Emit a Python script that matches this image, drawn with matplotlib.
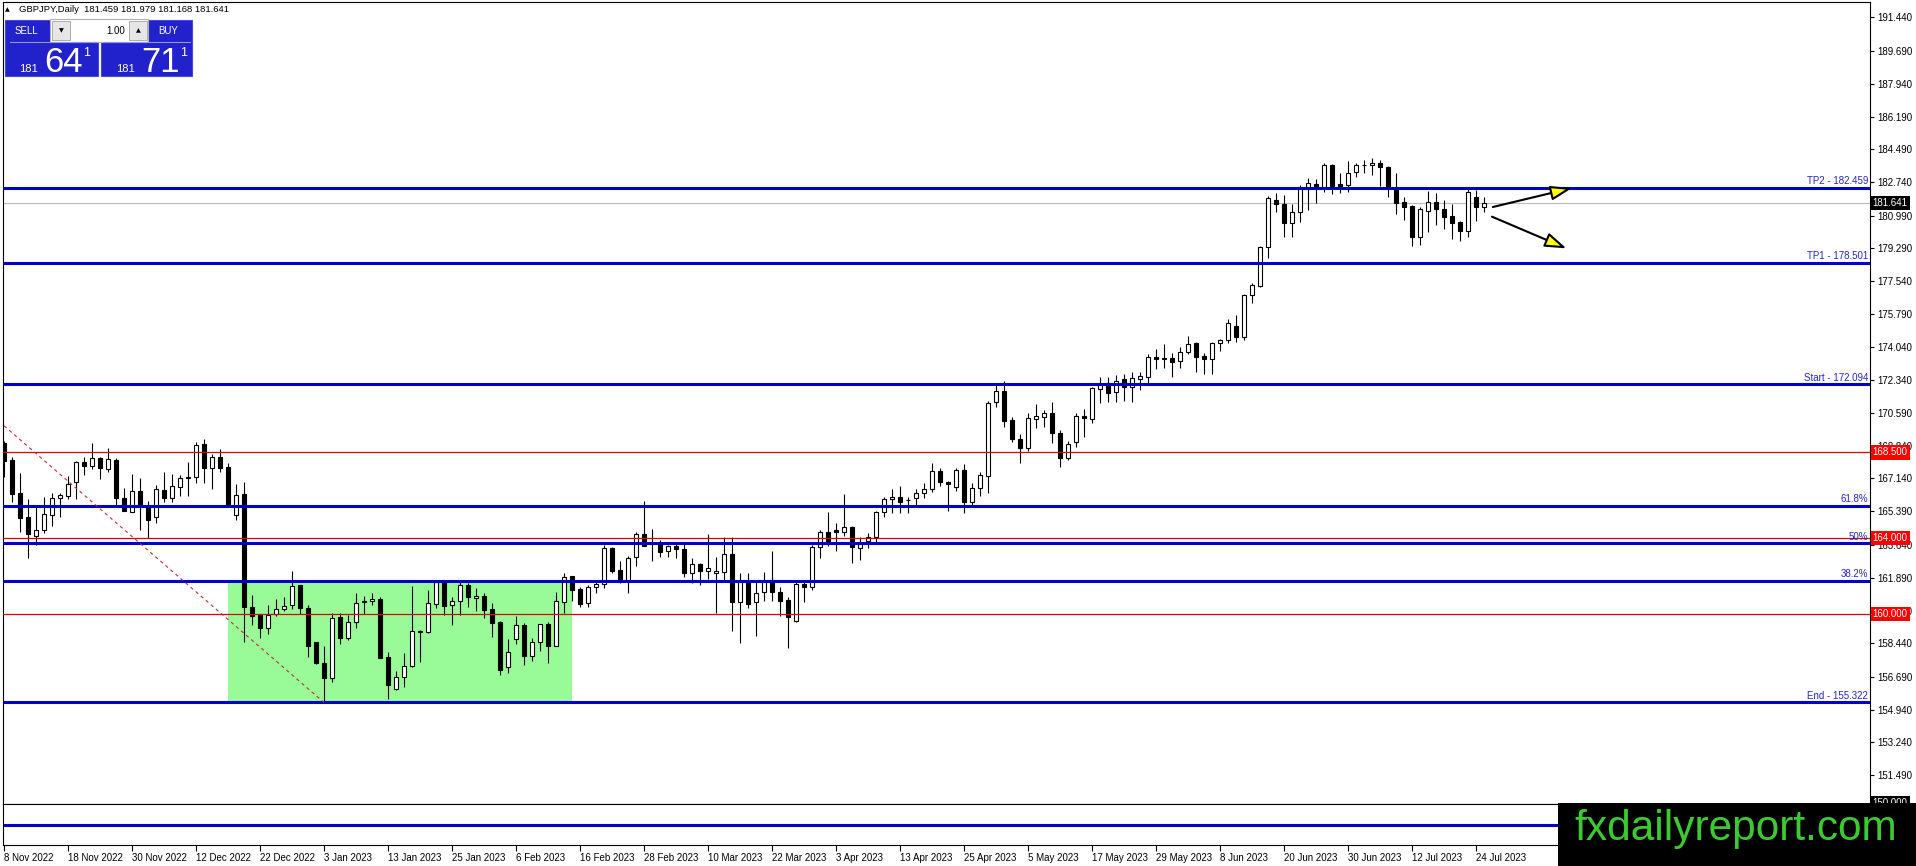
import matplotlib
matplotlib.use('Agg')
import matplotlib.pyplot as plt
from matplotlib.patches import Rectangle
import numpy as np

plt.rcParams['font.family'] = ['Liberation Sans', 'DejaVu Sans']

symbol = 'GBPJPY,Daily'
last_ohlc = [181.459, 181.979, 181.168, 181.641]
bid = 181.641

# daily candles, 8 Nov 2022 .. 25 Jul 2023
opens = [169.00, 168.10, 166.35, 165.08, 164.08, 164.40, 165.20, 166.09, 166.22, 166.93,
         167.99, 167.80, 168.19, 167.61, 168.10, 166.09, 165.38, 166.47, 165.68, 165.12,
         166.51, 166.12, 166.70, 167.14, 167.23, 168.95, 167.70, 168.25, 167.71, 165.20,
         166.29, 160.37, 159.97, 159.23, 159.97, 160.23, 160.45, 161.50, 160.29, 158.50,
         157.41, 156.60, 159.81, 158.74, 159.55, 160.67, 160.67, 160.76, 157.73, 156.02,
         156.65, 157.27, 159.05, 159.05, 160.50, 161.69, 160.46, 160.69, 161.52, 160.81,
         160.93, 160.23, 159.55, 157.18, 158.67, 159.41, 157.79, 158.53, 159.46, 158.32,
         160.64, 161.99, 161.31, 160.55, 161.40, 161.57, 163.45, 162.30, 161.74, 162.98,
         164.20, 163.68, 163.78, 163.29, 163.57, 163.40, 162.16, 162.60, 162.27, 162.13,
         162.22, 163.15, 160.64, 161.74, 160.64, 161.13, 161.78, 161.13, 160.72, 159.64,
         161.55, 161.43, 163.50, 164.29, 164.42, 164.29, 164.56, 163.45, 163.83, 164.06,
         165.35, 166.03, 166.14, 165.98, 166.09, 166.35, 166.56, 167.53, 166.96, 166.70,
         167.58, 165.91, 166.61, 167.28, 171.15, 171.74, 170.21, 169.21, 168.72, 170.28,
         170.39, 170.58, 169.51, 168.19, 169.04, 170.44, 170.25, 171.85, 172.14, 171.67,
         172.36, 171.94, 172.39, 172.50, 173.55, 173.45, 173.46, 173.32, 173.78, 174.29,
         173.59, 173.41, 174.29, 174.43, 175.17, 174.57, 176.80, 177.28, 179.35, 181.81,
         181.60, 180.58, 181.16, 182.39, 182.64, 182.42, 183.65, 182.64, 182.60, 183.27,
         183.64, 183.65, 183.74, 183.57, 182.46, 181.69, 181.49, 179.84, 181.25, 181.72,
         181.32, 180.97, 180.66, 180.19, 181.99, 181.459]
highs = [169.10, 168.25, 167.40, 166.05, 165.68, 166.17, 166.35, 166.38, 167.26, 168.07,
         168.28, 169.02, 168.28, 168.72, 168.19, 166.61, 167.35, 167.17, 165.94, 166.79,
         167.49, 167.37, 167.31, 168.01, 169.04, 169.21, 168.42, 168.70, 167.93, 166.82,
         166.96, 160.99, 160.00, 160.46, 160.78, 160.90, 162.27, 161.52, 160.46, 158.52,
         158.32, 160.06, 160.02, 159.94, 161.11, 160.93, 161.11, 160.90, 157.99, 157.00,
         157.91, 161.46, 159.12, 161.25, 161.75, 161.78, 160.90, 161.69, 161.61, 161.34,
         161.08, 160.55, 159.60, 158.65, 159.89, 159.50, 158.74, 159.46, 159.58, 161.16,
         162.13, 162.00, 161.43, 161.52, 161.69, 163.62, 163.54, 162.78, 163.04, 164.32,
         165.96, 164.45, 163.89, 163.62, 163.80, 163.80, 162.92, 162.65, 164.20, 162.98,
         164.06, 164.06, 162.13, 162.13, 161.78, 162.18, 163.33, 161.43, 160.87, 161.69,
         161.78, 163.62, 164.42, 165.38, 164.80, 166.29, 164.63, 164.03, 164.27, 165.43,
         166.17, 166.58, 166.75, 166.14, 166.56, 166.91, 167.93, 167.70, 166.98, 167.70,
         167.89, 166.91, 167.46, 171.21, 172.14, 172.28, 170.39, 169.48, 170.57, 171.06,
         170.74, 171.18, 169.69, 169.10, 170.57, 170.78, 171.97, 172.46, 172.46, 172.58,
         172.62, 172.76, 172.76, 173.69, 173.94, 174.22, 173.73, 174.08, 174.64, 174.35,
         173.73, 174.34, 174.48, 175.52, 175.75, 176.88, 177.42, 179.38, 182.04, 182.16,
         182.07, 181.60, 182.60, 182.95, 182.90, 183.78, 183.71, 183.22, 183.87, 183.74,
         183.92, 184.01, 183.92, 183.60, 183.22, 181.95, 181.54, 181.42, 182.28, 182.16,
         181.81, 181.60, 180.70, 182.48, 182.33, 181.979]
lows = [167.20, 165.91, 164.29, 162.96, 163.62, 164.24, 164.64, 165.12, 166.05, 166.05,
        167.31, 167.63, 167.09, 167.49, 165.69, 165.42, 165.35, 164.42, 163.98, 164.80,
        165.91, 165.91, 166.22, 166.22, 166.90, 166.90, 166.56, 167.49, 165.69, 164.94,
        158.53, 159.41, 158.71, 158.92, 159.90, 160.14, 160.23, 159.98, 157.73, 157.33,
        155.322, 156.42, 158.40, 158.61, 159.23, 159.97, 160.46, 157.66, 155.50, 155.98,
        156.16, 157.20, 157.47, 159.00, 160.29, 159.94, 159.41, 159.94, 160.34, 160.16,
        159.76, 158.79, 156.75, 156.85, 158.40, 157.30, 157.51, 158.05, 157.42, 158.30,
        160.02, 160.69, 160.37, 160.37, 161.08, 161.34, 162.16, 161.61, 161.08, 162.52,
        163.55, 162.80, 162.98, 163.00, 162.92, 161.95, 161.64, 161.52, 161.83, 160.02,
        161.78, 159.11, 158.44, 160.30, 158.84, 160.69, 160.69, 159.89, 158.18, 159.58,
        160.64, 161.25, 162.92, 163.57, 163.33, 164.11, 162.69, 162.83, 163.45, 163.75,
        165.12, 165.33, 165.33, 165.33, 165.61, 166.09, 166.40, 166.75, 165.43, 166.48,
        165.33, 165.64, 166.22, 166.38, 170.91, 169.86, 169.07, 167.96, 168.60, 169.78,
        169.83, 169.02, 167.75, 168.12, 168.81, 169.33, 170.04, 171.13, 171.18, 171.18,
        171.23, 171.18, 171.80, 172.14, 172.89, 172.94, 172.46, 172.94, 173.69, 172.76,
        172.64, 172.64, 173.85, 174.25, 174.34, 174.41, 176.40, 177.21, 178.77, 181.19,
        179.87, 179.87, 180.66, 181.28, 181.67, 182.21, 182.13, 182.19, 182.25, 183.04,
        183.22, 183.13, 182.55, 181.98, 181.05, 180.75, 179.38, 179.44, 180.14, 180.49,
        180.28, 179.74, 179.66, 179.84, 180.70, 181.168]
closes = [168.05, 166.29, 165.06, 164.19, 164.40, 165.24, 166.09, 166.26, 166.82, 167.98,
          167.80, 168.19, 167.67, 168.16, 166.09, 165.43, 166.47, 165.68, 164.94, 166.58,
          166.12, 166.73, 167.14, 167.23, 168.89, 167.70, 168.28, 167.70, 165.69, 166.26,
          160.37, 159.90, 159.23, 159.94, 160.23, 160.43, 161.48, 160.29, 158.32, 157.42,
          156.60, 159.76, 158.74, 159.58, 160.59, 160.62, 160.78, 157.69, 156.24, 156.65,
          157.26, 159.07, 159.10, 160.55, 161.66, 160.41, 160.69, 161.52, 160.90, 160.93,
          160.19, 159.53, 157.05, 157.99, 159.38, 157.79, 158.53, 159.44, 158.32, 160.67,
          161.96, 161.25, 160.52, 161.43, 161.55, 163.45, 162.27, 161.78, 162.92, 164.20,
          163.59, 163.78, 163.27, 163.57, 163.40, 162.16, 162.60, 162.27, 162.39, 162.25,
          163.15, 160.64, 161.78, 160.50, 161.11, 161.78, 161.13, 160.69, 159.81, 161.55,
          161.43, 163.53, 164.29, 163.71, 164.33, 164.59, 163.50, 163.80, 164.06, 165.35,
          166.03, 166.14, 165.91, 166.00, 166.35, 166.56, 167.53, 166.96, 166.82, 167.58,
          165.91, 166.61, 167.31, 171.09, 171.74, 170.18, 169.20, 168.75, 170.30, 170.42,
          170.58, 169.51, 168.19, 168.93, 170.44, 170.30, 171.88, 172.06, 171.62, 172.28,
          171.94, 172.41, 172.53, 173.55, 173.43, 173.47, 173.28, 173.78, 174.22, 173.55,
          173.41, 174.25, 174.43, 175.31, 174.57, 176.80, 177.33, 179.32, 181.90, 181.58,
          180.58, 181.16, 182.42, 182.69, 182.37, 183.65, 182.56, 182.55, 183.22, 183.65,
          183.66, 183.78, 183.53, 182.42, 181.67, 181.46, 179.84, 181.32, 181.72, 181.32,
          180.93, 180.61, 180.19, 182.21, 181.46, 181.641]

date_labels = ['8 Nov 2022', '18 Nov 2022', '30 Nov 2022', '12 Dec 2022', '22 Dec 2022',
               '3 Jan 2023', '13 Jan 2023', '25 Jan 2023', '6 Feb 2023', '16 Feb 2023',
               '28 Feb 2023', '10 Mar 2023', '22 Mar 2023', '3 Apr 2023', '13 Apr 2023',
               '25 Apr 2023', '5 May 2023', '17 May 2023', '29 May 2023', '8 Jun 2023',
               '20 Jun 2023', '30 Jun 2023', '12 Jul 2023', '24 Jul 2023']
label_step = 8

price_ticks = [191.44, 189.69, 187.94, 186.19, 184.49, 182.74, 180.99, 179.29, 177.54,
               175.79, 174.04, 172.34, 170.59, 168.84, 167.14, 165.39, 163.64, 161.89,
               160.14, 158.44, 156.69, 154.94, 153.24, 151.49]

blue_levels = [182.459, 178.501, 172.094, 165.687, 163.708, 161.729, 155.322]
blue_names = ['TP2 - 182.459', 'TP1 - 178.501', 'Start - 172.094', '61.8%', '50%',
              '38.2%', 'End - 155.322']
red_levels = [168.5, 164.0, 160.0]

zone_bars = [28, 71]
zone_prices = [155.322, 161.729]
fib_bars = [-6, 40]
fib_prices = [172.094, 155.322]
arrow_up = [(186.1, 181.44), (196.0, 182.44)]
arrow_down = [(186.0, 180.93), (195.3, 179.26)]

W, H = 1916, 866
fig = plt.figure(figsize=(W / 100, H / 100), dpi=100)
fig.patch.set_facecolor('white')


def frac(x0, y0, x1, y1):
    return [x0 / W, 1 - y1 / H, (x1 - x0) / W, (y1 - y0) / H]


ax = fig.add_axes(frac(3, 2, 1870, 804))
sub = fig.add_axes(frac(3, 804, 1870, 845))

o = np.array(opens)
h = np.array(highs)
l = np.array(lows)
c = np.array(closes)
x = np.arange(len(o))
xlim = (-0.125, 233.25)
ax.set_xlim(*xlim)
ax.set_ylim(149.97, 192.247)

# zone rectangle
ax.add_patch(Rectangle((zone_bars[0], zone_prices[0]), zone_bars[1] - zone_bars[0],
                       zone_prices[1] - zone_prices[0], fc='#98FB98', ec='none', zorder=0.5))

# candles
up = c >= o
body_lo = np.minimum(o, c)
body_h = np.maximum(np.abs(c - o), 0.04)
ax.vlines(x, l, h, color='black', lw=0.8, zorder=3)
ax.bar(x[up], body_h[up], bottom=body_lo[up], width=0.62, color='white',
       edgecolor='black', linewidth=0.8, zorder=4)
ax.bar(x[~up], body_h[~up], bottom=body_lo[~up], width=0.62, color='black',
       edgecolor='black', linewidth=0.8, zorder=4)

# levels
ax.axhline(bid, color='#B8B8B8', lw=0.8, zorder=2)
for lv in red_levels:
    ax.axhline(lv, color='#E00000', lw=0.9, zorder=5)
for lv, name in zip(blue_levels, blue_names):
    ax.axhline(lv, color='#0000C8', lw=2.2, zorder=5)
    ax.annotate(name, xy=(1, lv), xycoords=('axes fraction', 'data'), xytext=(-1.5, 1.2),
                textcoords='offset points', ha='right', va='bottom', fontsize=7,
                color='#2424D0', zorder=6)

ax.plot(fib_bars, fib_prices, color='#C03030', lw=0.8, ls=(0, (3, 3)), zorder=5)

for (x0, y0), (x1, y1) in (arrow_up, arrow_down):
    ax.annotate('', xy=(x1, y1), xytext=(x0, y0),
                arrowprops=dict(arrowstyle='-|>,head_length=0.65,head_width=0.22',
                                fc='#FFFF00', ec='black', lw=1.5, mutation_scale=20,
                                shrinkA=0, shrinkB=0), zorder=7)

# price axis
ax.yaxis.tick_right()
ax.set_yticks(price_ticks)
ax.set_yticklabels(['%.3f' % p for p in price_ticks])
ax.tick_params(axis='y', direction='out', length=3, width=0.8, pad=2, labelsize=7,
               colors='black')
ax.tick_params(axis='x', bottom=False, labelbottom=False)
for s in ax.spines.values():
    s.set_color('black')
    s.set_linewidth(0.8)


def price_box(val, text, fc):
    ax.annotate(text, xy=(1, val), xycoords=('axes fraction', 'data'), xytext=(2, 0),
                textcoords='offset points', ha='left', va='center', fontsize=7,
                color='white', annotation_clip=False, zorder=8,
                bbox=dict(boxstyle='square,pad=0.22', fc=fc, ec='none'))


price_box(150.0, '150.000', 'black')
for lv in red_levels:
    price_box(lv, '%.3f' % lv, '#FF0000')
price_box(bid, '%.3f' % bid, 'black')

# sub window
sub.set_xlim(*xlim)
sub.set_ylim(0, 1)
sub.axhline(0.49, color='#0000C8', lw=2.2)
sub.set_yticks([])
sub.set_xticks(np.arange(0, len(o), label_step)[:len(date_labels)])
sub.set_xticklabels(date_labels, ha='left')
sub.tick_params(axis='x', direction='out', length=4, width=0.8, pad=1.5, labelsize=7)
for s in sub.spines.values():
    s.set_color('black')
    s.set_linewidth(0.8)

# overlay: header, trade panel, watermark
ov = fig.add_axes([0, 0, 1, 1])
ov.set_zorder(10)
ov.set_xlim(0, W)
ov.set_ylim(H, 0)
ov.axis('off')

ov.text(5, 9.5, '\u25b2', fontsize=4.5, family='DejaVu Sans', va='center')
ov.text(19, 9.5, symbol + '  ' + ' '.join('%.3f' % v for v in last_ohlc),
        fontsize=6.8, va='center')

blue = '#2222CC'
ov.add_patch(Rectangle((5, 20), 93, 56, fc=blue, ec='#4646E6', lw=0.8))
ov.add_patch(Rectangle((101, 20), 91, 56, fc=blue, ec='#4646E6', lw=0.8))
ov.plot([10, 96], [42, 42], color='#9090FF', lw=0.8)
ov.plot([104, 190], [42, 42], color='#9090FF', lw=0.8)
ov.add_patch(Rectangle((50, 19), 98, 23, fc='white', ec='#B0B0B0', lw=0.8))
ov.add_patch(Rectangle((52, 21), 18, 19, fc='#E6E6E6', ec='#A0A0A0', lw=0.6))
ov.add_patch(Rectangle((129, 21), 18, 19, fc='#E6E6E6', ec='#A0A0A0', lw=0.6))
ov.text(61, 31, '\u25bc', fontsize=4.5, family='DejaVu Sans', ha='center', va='center')
ov.text(138, 31, '\u25b2', fontsize=4.5, family='DejaVu Sans', ha='center', va='center')
ov.text(125, 31, '1.00', fontsize=7, ha='right', va='center')
ov.text(15, 31, 'SELL', fontsize=7, color='white', va='center')
ov.text(158, 31, 'BUY', fontsize=7, color='white', va='center')
for x0, small, big in ((19, '181', '64'), (116, '181', '71')):
    ov.text(x0, 72, small, fontsize=8, color='white', va='baseline')
    ov.text(x0 + 25, 72, big, fontsize=25, color='white', va='baseline')
    ov.text(x0 + 64, 56, '1', fontsize=9, color='white', va='baseline')

ov.add_patch(Rectangle((1558, 803), W - 1558, H - 803, fc='black', ec='none'))
ov.text(1736, 829, 'fxdailyreport.com', fontsize=30.5, color='#3ACC2E',
        ha='center', va='center')

fig.savefig('out.png', dpi=100)
